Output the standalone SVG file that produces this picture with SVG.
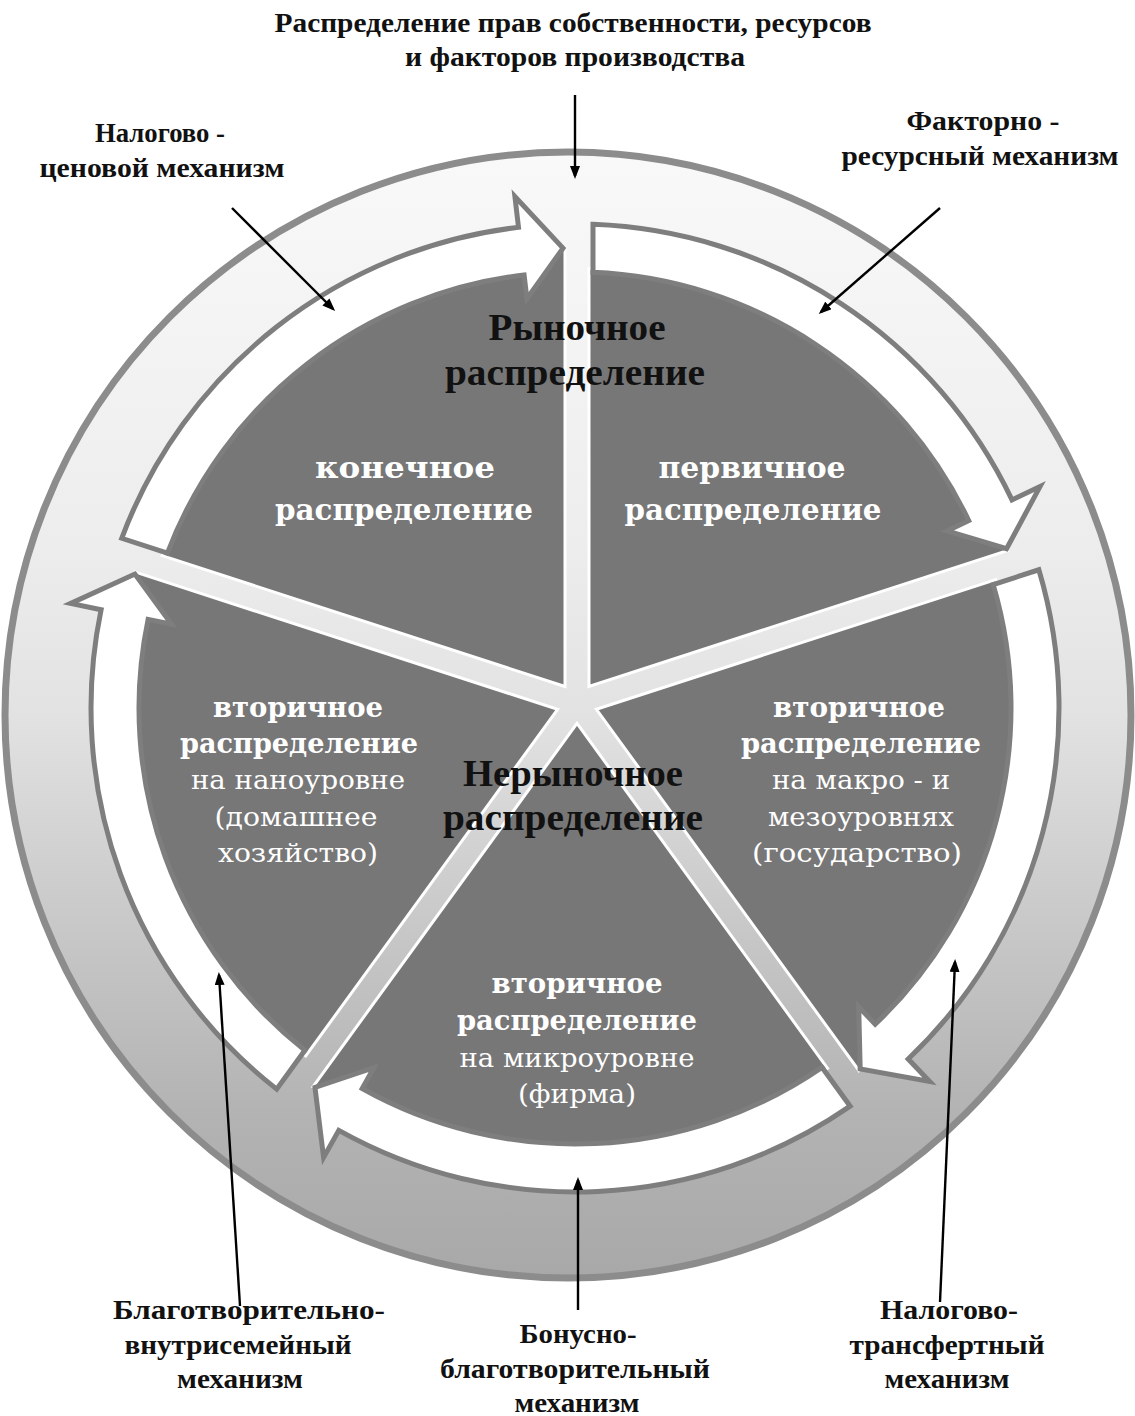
<svg xmlns="http://www.w3.org/2000/svg" width="1135" height="1416" viewBox="0 0 1135 1416">
<style>
.lbl{font-family:'Liberation Serif','Times New Roman',serif;font-weight:bold;font-size:27px;fill:#111;text-anchor:middle}
.mid{font-family:'Liberation Serif','Times New Roman',serif;font-weight:bold;font-size:37px;fill:#111;text-anchor:middle}
.wb{font-family:'DejaVu Serif',serif;font-weight:bold;font-size:30px;fill:#fff;text-anchor:middle}
.wbs{font-family:'DejaVu Serif',serif;font-weight:bold;font-size:27px;fill:#fff;text-anchor:middle}
.wr{font-family:'DejaVu Serif',serif;font-weight:normal;font-size:26px;fill:#fff;text-anchor:middle}
.sector{fill:#777777;stroke:#ffffff;stroke-width:3;stroke-linejoin:miter}
.flow{fill:#ffffff;stroke:#7e7e7e;stroke-width:5;stroke-linejoin:miter}
.conn{stroke:#000;stroke-width:2.4;fill:none;marker-end:url(#ah)}
</style>
<defs>
<linearGradient id="ringGrad" gradientUnits="userSpaceOnUse" x1="0" y1="148" x2="0" y2="1283">
<stop offset="0" stop-color="#f9f9f9"/>
<stop offset="0.35" stop-color="#ededed"/>
<stop offset="0.5" stop-color="#e2e2e2"/>
<stop offset="0.7" stop-color="#c6c6c6"/>
<stop offset="0.85" stop-color="#b3b3b3"/>
<stop offset="1" stop-color="#a8a8a8"/>
</linearGradient>
<marker id="ah" viewBox="0 0 13 10" refX="10" refY="5" markerWidth="13" markerHeight="10" markerUnits="userSpaceOnUse" orient="auto">
<path d="M0,0 L13,5 L0,10 z" fill="#000"/>
</marker>
</defs>

<g id="ring">
<circle cx="568" cy="715" r="563" fill="url(#ringGrad)" stroke="#8c8c8c" stroke-width="7"/>
</g>

<g id="sectors">
<path class="sector" d="M 588.99 686.5 L 589 268.22 A 440 440 0 0 1 972.3 518.8 L 1007.25 550.6 Z"/>
<path class="sector" d="M 596.4 709.3 L 995.85 579.54 A 440 440 0 0 1 877.9 1027.1 L 858.61 1070.17 Z"/>
<path class="sector" d="M 577 723.4 L 827.57 1068.28 A 440 440 0 0 1 360.2 1092 L 313.33 1086.31 Z"/>
<path class="sector" d="M 557.6 709.3 L 305.71 1055.97 A 440 440 0 0 1 144.2 618.6 L 135.49 572.17 Z"/>
<path class="sector" d="M 565.01 686.5 L 162.21 555.63 A 440 440 0 0 1 523.7 271 L 565 248.11 Z"/>
</g>

<g id="flows">
<path class="flow" d="M 593 272.37 L 593 224.34 A 484 484 0 0 1 1012 499.9 L 1040 486.6 L 1006.56 548.72 L 947 530.9 L 968.7 520.6 A 436 436 0 0 0 593 272.37 Z"/>
<path class="flow" d="M 993.19 584.61 L 1038.86 569.77 A 484 484 0 0 1 908.2 1059 L 929.6 1081.5 L 860.18 1068.93 L 858.7 1006.8 L 875.2 1024.2 A 436 436 0 0 0 993.19 584.61 Z"/>
<path class="flow" d="M 821.94 1067.32 L 850.16 1106.17 A 484 484 0 0 1 338.8 1130.4 L 323.6 1157.5 L 314.98 1087.45 L 373.9 1067.6 L 362.2 1088.5 A 436 436 0 0 0 821.94 1067.32 Z"/>
<path class="flow" d="M 304.91 1050.27 L 276.68 1089.13 A 484 484 0 0 1 101.1 609.7 L 70.7 603.4 L 134.9 574.09 L 171.6 624.3 L 148.1 619.4 A 436 436 0 0 0 304.91 1050.27 Z"/>
<path class="flow" d="M 167.42 553.11 L 121.72 538.26 A 484 484 0 0 1 518.5 227.3 L 514.9 196.5 L 563 248.16 L 526.9 298.8 L 524.1 275 A 436 436 0 0 0 167.42 553.11 Z"/>
</g>

<g id="node-market">
<text class="mid" x="577" y="340" textLength="177" lengthAdjust="spacingAndGlyphs">Рыночное</text>
<text class="mid" x="575" y="385" textLength="260" lengthAdjust="spacingAndGlyphs">распределение</text>
</g>
<g id="node-nonmarket">
<text class="mid" x="573" y="786" textLength="220" lengthAdjust="spacingAndGlyphs">Нерыночное</text>
<text class="mid" x="573" y="830" textLength="260" lengthAdjust="spacingAndGlyphs">распределение</text>
</g>
<g id="node-final">
<text class="wb" x="405" y="478" textLength="180" lengthAdjust="spacingAndGlyphs">конечное</text>
<text class="wb" x="404" y="520" textLength="258" lengthAdjust="spacingAndGlyphs">распределение</text>
</g>
<g id="node-primary">
<text class="wb" x="752" y="478" textLength="187" lengthAdjust="spacingAndGlyphs">первичное</text>
<text class="wb" x="753" y="520" textLength="257" lengthAdjust="spacingAndGlyphs">распределение</text>
</g>
<g id="node-nano">
<text class="wbs" x="298" y="717" textLength="170" lengthAdjust="spacingAndGlyphs">вторичное</text>
<text class="wbs" x="299" y="753" textLength="238" lengthAdjust="spacingAndGlyphs">распределение</text>
<text class="wr" x="298" y="789" textLength="214" lengthAdjust="spacingAndGlyphs">на наноуровне</text>
<text class="wr" x="296" y="826" textLength="163" lengthAdjust="spacingAndGlyphs">(домашнее</text>
<text class="wr" x="298" y="862" textLength="160" lengthAdjust="spacingAndGlyphs">хозяйство)</text>
</g>
<g id="node-macro">
<text class="wbs" x="859" y="717" textLength="172" lengthAdjust="spacingAndGlyphs">вторичное</text>
<text class="wbs" x="861" y="753" textLength="240" lengthAdjust="spacingAndGlyphs">распределение</text>
<text class="wr" x="861" y="789" textLength="178" lengthAdjust="spacingAndGlyphs">на макро - и</text>
<text class="wr" x="861" y="826" textLength="186" lengthAdjust="spacingAndGlyphs">мезоуровнях</text>
<text class="wr" x="857" y="862" textLength="210" lengthAdjust="spacingAndGlyphs">(государство)</text>
</g>
<g id="node-micro">
<text class="wbs" x="577" y="993" textLength="171" lengthAdjust="spacingAndGlyphs">вторичное</text>
<text class="wbs" x="577" y="1030" textLength="240" lengthAdjust="spacingAndGlyphs">распределение</text>
<text class="wr" x="577" y="1067" textLength="235" lengthAdjust="spacingAndGlyphs">на микроуровне</text>
<text class="wr" x="577" y="1103" textLength="118" lengthAdjust="spacingAndGlyphs">(фирма)</text>
</g>

<g id="label-top">
<text class="lbl" x="573" y="32" textLength="597" lengthAdjust="spacingAndGlyphs">Распределение прав собственности, ресурсов</text>
<text class="lbl" x="575" y="66" textLength="340" lengthAdjust="spacingAndGlyphs">и факторов производства</text>
</g>
<g id="label-tax-price">
<text class="lbl" x="160" y="142" textLength="130" lengthAdjust="spacingAndGlyphs">Налогово -</text>
<text class="lbl" x="162" y="177" textLength="245" lengthAdjust="spacingAndGlyphs">ценовой механизм</text>
</g>
<g id="label-factor">
<text class="lbl" x="983" y="130" textLength="153" lengthAdjust="spacingAndGlyphs">Факторно -</text>
<text class="lbl" x="980" y="165" textLength="277" lengthAdjust="spacingAndGlyphs">ресурсный механизм</text>
</g>
<g id="label-charity-family">
<text class="lbl" x="249" y="1319" textLength="272" lengthAdjust="spacingAndGlyphs">Благотворительно-</text>
<text class="lbl" x="238" y="1354" textLength="227" lengthAdjust="spacingAndGlyphs">внутрисемейный</text>
<text class="lbl" x="240" y="1388" textLength="126" lengthAdjust="spacingAndGlyphs">механизм</text>
</g>
<g id="label-bonus">
<text class="lbl" x="578" y="1343" textLength="117" lengthAdjust="spacingAndGlyphs">Бонусно-</text>
<text class="lbl" x="575" y="1378" textLength="270" lengthAdjust="spacingAndGlyphs">благотворительный</text>
<text class="lbl" x="577" y="1412" textLength="125" lengthAdjust="spacingAndGlyphs">механизм</text>
</g>
<g id="label-tax-transfer">
<text class="lbl" x="949" y="1319" textLength="138" lengthAdjust="spacingAndGlyphs">Налогово-</text>
<text class="lbl" x="947" y="1354" textLength="195" lengthAdjust="spacingAndGlyphs">трансфертный</text>
<text class="lbl" x="947" y="1388" textLength="125" lengthAdjust="spacingAndGlyphs">механизм</text>
</g>

<g id="connectors">
<line class="conn" x1="575" y1="95" x2="575" y2="176"/>
<line class="conn" x1="232" y1="208" x2="333" y2="309"/>
<line class="conn" x1="940" y1="208" x2="821" y2="312"/>
<line class="conn" x1="240" y1="1306" x2="219" y2="975"/>
<line class="conn" x1="578" y1="1310" x2="578" y2="1180"/>
<line class="conn" x1="940" y1="1302" x2="955" y2="962"/>
</g>
</svg>
